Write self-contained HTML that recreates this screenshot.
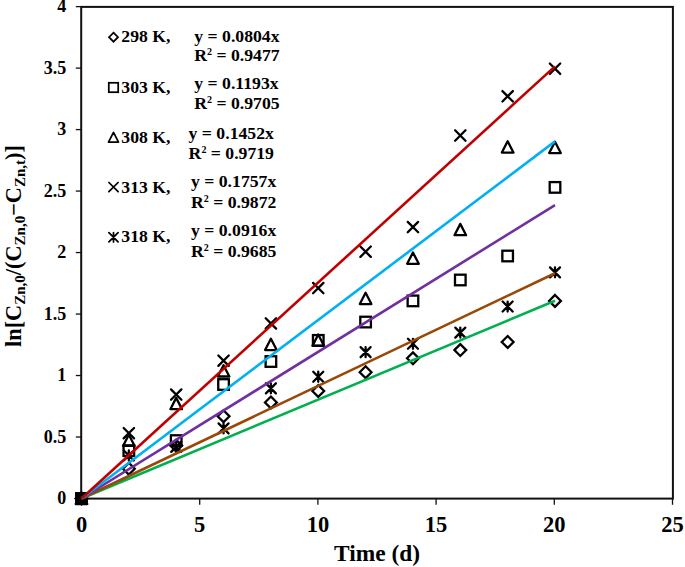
<!DOCTYPE html>
<html><head><meta charset="utf-8"><style>
html,body{margin:0;padding:0;background:#fff;}
svg{display:block;}
text{font-family:"Liberation Serif",serif;font-weight:bold;fill:#000;}
.yt{font-size:18px;}
.xt{font-size:22.5px;}
.lg{font-size:17.7px;}
.sup{font-size:10px;}
.at{font-size:23.4px;}
.at2{font-size:22.3px;}
.sb{font-size:15px;}
</style></head><body>
<svg width="685" height="567" viewBox="0 0 685 567">
<rect x="81.2" y="6.9" width="591.70" height="491.70" fill="none" stroke="#111" stroke-width="2"/>
<line x1="75.8" y1="498.50" x2="81.2" y2="498.50" stroke="#111" stroke-width="1.3"/>
<line x1="75.8" y1="437.01" x2="81.2" y2="437.01" stroke="#111" stroke-width="1.3"/>
<line x1="75.8" y1="375.53" x2="81.2" y2="375.53" stroke="#111" stroke-width="1.3"/>
<line x1="75.8" y1="314.05" x2="81.2" y2="314.05" stroke="#111" stroke-width="1.3"/>
<line x1="75.8" y1="252.56" x2="81.2" y2="252.56" stroke="#111" stroke-width="1.3"/>
<line x1="75.8" y1="191.07" x2="81.2" y2="191.07" stroke="#111" stroke-width="1.3"/>
<line x1="75.8" y1="129.59" x2="81.2" y2="129.59" stroke="#111" stroke-width="1.3"/>
<line x1="75.8" y1="68.11" x2="81.2" y2="68.11" stroke="#111" stroke-width="1.3"/>
<line x1="75.8" y1="6.62" x2="81.2" y2="6.62" stroke="#111" stroke-width="1.3"/>
<line x1="81.50" y1="498.5" x2="81.50" y2="504.8" stroke="#111" stroke-width="1.3"/>
<line x1="199.70" y1="498.5" x2="199.70" y2="504.8" stroke="#111" stroke-width="1.3"/>
<line x1="317.90" y1="498.5" x2="317.90" y2="504.8" stroke="#111" stroke-width="1.3"/>
<line x1="436.10" y1="498.5" x2="436.10" y2="504.8" stroke="#111" stroke-width="1.3"/>
<line x1="554.30" y1="498.5" x2="554.30" y2="504.8" stroke="#111" stroke-width="1.3"/>
<line x1="672.50" y1="498.5" x2="672.50" y2="504.8" stroke="#111" stroke-width="1.3"/>
<text x="66.2" y="504.00" text-anchor="end" class="yt">0</text>
<text x="66.2" y="442.51" text-anchor="end" class="yt">0.5</text>
<text x="66.2" y="381.03" text-anchor="end" class="yt">1</text>
<text x="66.2" y="319.55" text-anchor="end" class="yt">1.5</text>
<text x="66.2" y="258.06" text-anchor="end" class="yt">2</text>
<text x="66.2" y="196.57" text-anchor="end" class="yt">2.5</text>
<text x="66.2" y="135.09" text-anchor="end" class="yt">3</text>
<text x="66.2" y="73.61" text-anchor="end" class="yt">3.5</text>
<text x="66.2" y="12.12" text-anchor="end" class="yt">4</text>
<text x="81.50" y="532.1" text-anchor="middle" class="xt">0</text>
<text x="199.70" y="532.1" text-anchor="middle" class="xt">5</text>
<text x="317.90" y="532.1" text-anchor="middle" class="xt">10</text>
<text x="436.10" y="532.1" text-anchor="middle" class="xt">15</text>
<text x="554.30" y="532.1" text-anchor="middle" class="xt">20</text>
<text x="672.50" y="532.1" text-anchor="middle" class="xt">25</text>
<path d="M128.85 462.84L134.75 468.74L128.85 474.64L122.95 468.74Z" fill="none" stroke="#000" stroke-width="2.3" stroke-linejoin="miter"/>
<path d="M176.20 439.72L182.10 445.62L176.20 451.52L170.30 445.62Z" fill="none" stroke="#000" stroke-width="2.3" stroke-linejoin="miter"/>
<path d="M223.55 410.33L229.45 416.23L223.55 422.13L217.65 416.23Z" fill="none" stroke="#000" stroke-width="2.3" stroke-linejoin="miter"/>
<path d="M270.90 396.56L276.80 402.46L270.90 408.36L265.00 402.46Z" fill="none" stroke="#000" stroke-width="2.3" stroke-linejoin="miter"/>
<path d="M318.25 385.12L324.15 391.02L318.25 396.92L312.35 391.02Z" fill="none" stroke="#000" stroke-width="2.3" stroke-linejoin="miter"/>
<path d="M365.60 366.31L371.50 372.21L365.60 378.11L359.70 372.21Z" fill="none" stroke="#000" stroke-width="2.3" stroke-linejoin="miter"/>
<path d="M412.95 352.41L418.85 358.31L412.95 364.21L407.05 358.31Z" fill="none" stroke="#000" stroke-width="2.3" stroke-linejoin="miter"/>
<path d="M460.30 344.18L466.20 350.08L460.30 355.98L454.40 350.08Z" fill="none" stroke="#000" stroke-width="2.3" stroke-linejoin="miter"/>
<path d="M507.65 336.06L513.55 341.96L507.65 347.86L501.75 341.96Z" fill="none" stroke="#000" stroke-width="2.3" stroke-linejoin="miter"/>
<path d="M555.00 294.99L560.90 300.89L555.00 306.79L549.10 300.89Z" fill="none" stroke="#000" stroke-width="2.3" stroke-linejoin="miter"/>
<rect x="123.55" y="445.36" width="10.60" height="10.60" fill="none" stroke="#000" stroke-width="2.3"/>
<rect x="170.90" y="435.28" width="10.60" height="10.60" fill="none" stroke="#000" stroke-width="2.3"/>
<rect x="218.25" y="379.21" width="10.60" height="10.60" fill="none" stroke="#000" stroke-width="2.3"/>
<rect x="265.60" y="356.21" width="10.60" height="10.60" fill="none" stroke="#000" stroke-width="2.3"/>
<rect x="312.95" y="335.06" width="10.60" height="10.60" fill="none" stroke="#000" stroke-width="2.3"/>
<rect x="360.30" y="316.74" width="10.60" height="10.60" fill="none" stroke="#000" stroke-width="2.3"/>
<rect x="407.65" y="295.59" width="10.60" height="10.60" fill="none" stroke="#000" stroke-width="2.3"/>
<rect x="455.00" y="274.68" width="10.60" height="10.60" fill="none" stroke="#000" stroke-width="2.3"/>
<rect x="502.35" y="250.70" width="10.60" height="10.60" fill="none" stroke="#000" stroke-width="2.3"/>
<rect x="549.70" y="182.09" width="10.60" height="10.60" fill="none" stroke="#000" stroke-width="2.3"/>
<path d="M128.85 434.66L134.65 445.97L123.05 445.97Z" fill="none" stroke="#000" stroke-width="2.3" stroke-linejoin="round"/>
<path d="M176.20 397.89L182.00 409.20L170.40 409.20Z" fill="none" stroke="#000" stroke-width="2.3" stroke-linejoin="round"/>
<path d="M223.55 365.18L229.35 376.49L217.75 376.49Z" fill="none" stroke="#000" stroke-width="2.3" stroke-linejoin="round"/>
<path d="M270.90 338.74L276.70 350.05L265.10 350.05Z" fill="none" stroke="#000" stroke-width="2.3" stroke-linejoin="round"/>
<path d="M318.25 334.56L324.05 345.87L312.45 345.87Z" fill="none" stroke="#000" stroke-width="2.3" stroke-linejoin="round"/>
<path d="M365.60 292.75L371.40 304.06L359.80 304.06Z" fill="none" stroke="#000" stroke-width="2.3" stroke-linejoin="round"/>
<path d="M412.95 252.54L418.75 263.85L407.15 263.85Z" fill="none" stroke="#000" stroke-width="2.3" stroke-linejoin="round"/>
<path d="M460.30 223.89L466.10 235.20L454.50 235.20Z" fill="none" stroke="#000" stroke-width="2.3" stroke-linejoin="round"/>
<path d="M507.65 141.25L513.45 152.56L501.85 152.56Z" fill="none" stroke="#000" stroke-width="2.3" stroke-linejoin="round"/>
<path d="M555.00 141.74L560.80 153.05L549.20 153.05Z" fill="none" stroke="#000" stroke-width="2.3" stroke-linejoin="round"/>
<path d="M123.65 428.00L134.05 438.40M134.05 428.00L123.65 438.40" stroke="#000" stroke-width="2.3" stroke-linecap="round"/>
<path d="M171.00 389.39L181.40 399.79M181.40 389.39L171.00 399.79" stroke="#000" stroke-width="2.3" stroke-linecap="round"/>
<path d="M218.35 355.45L228.75 365.85M228.75 355.45L218.35 365.85" stroke="#000" stroke-width="2.3" stroke-linecap="round"/>
<path d="M265.70 318.19L276.10 328.59M276.10 318.19L265.70 328.59" stroke="#000" stroke-width="2.3" stroke-linecap="round"/>
<path d="M313.05 282.90L323.45 293.30M323.45 282.90L313.05 293.30" stroke="#000" stroke-width="2.3" stroke-linecap="round"/>
<path d="M360.40 246.50L370.80 256.90M370.80 246.50L360.40 256.90" stroke="#000" stroke-width="2.3" stroke-linecap="round"/>
<path d="M407.75 221.91L418.15 232.31M418.15 221.91L407.75 232.31" stroke="#000" stroke-width="2.3" stroke-linecap="round"/>
<path d="M455.10 130.29L465.50 140.69M465.50 130.29L455.10 140.69" stroke="#000" stroke-width="2.3" stroke-linecap="round"/>
<path d="M502.45 91.07L512.85 101.47M512.85 91.07L502.45 101.47" stroke="#000" stroke-width="2.3" stroke-linecap="round"/>
<path d="M549.80 63.52L560.20 73.92M560.20 63.52L549.80 73.92" stroke="#000" stroke-width="2.3" stroke-linecap="round"/>
<path d="M123.85 450.46L133.85 460.46M133.85 450.46L123.85 460.46M128.85 450.46L128.85 460.46" stroke="#000" stroke-width="2.3" stroke-linecap="round"/>
<path d="M171.20 441.85L181.20 451.85M181.20 441.85L171.20 451.85M176.20 441.85L176.20 451.85" stroke="#000" stroke-width="2.3" stroke-linecap="round"/>
<path d="M218.55 423.41L228.55 433.41M228.55 423.41L218.55 433.41M223.55 423.41L223.55 433.41" stroke="#000" stroke-width="2.3" stroke-linecap="round"/>
<path d="M265.90 383.32L275.90 393.32M275.90 383.32L265.90 393.32M270.90 383.32L270.90 393.32" stroke="#000" stroke-width="2.3" stroke-linecap="round"/>
<path d="M313.25 371.76L323.25 381.76M323.25 371.76L313.25 381.76M318.25 371.76L318.25 381.76" stroke="#000" stroke-width="2.3" stroke-linecap="round"/>
<path d="M360.60 347.17L370.60 357.17M370.60 347.17L360.60 357.17M365.60 347.17L365.60 357.17" stroke="#000" stroke-width="2.3" stroke-linecap="round"/>
<path d="M407.95 338.80L417.95 348.80M417.95 338.80L407.95 348.80M412.95 338.80L412.95 348.80" stroke="#000" stroke-width="2.3" stroke-linecap="round"/>
<path d="M455.30 327.61L465.30 337.61M465.30 327.61L455.30 337.61M460.30 327.61L460.30 337.61" stroke="#000" stroke-width="2.3" stroke-linecap="round"/>
<path d="M502.65 301.54L512.65 311.54M512.65 301.54L502.65 311.54M507.65 301.54L507.65 311.54" stroke="#000" stroke-width="2.3" stroke-linecap="round"/>
<path d="M550.00 267.36L560.00 277.36M560.00 267.36L550.00 277.36M555.00 267.36L555.00 277.36" stroke="#000" stroke-width="2.3" stroke-linecap="round"/>
<path d="M81.50 492.60L87.40 498.50L81.50 504.40L75.60 498.50Z" fill="none" stroke="#000" stroke-width="2.3" stroke-linejoin="miter"/>
<rect x="76.20" y="493.20" width="10.60" height="10.60" fill="none" stroke="#000" stroke-width="2.3"/>
<path d="M81.50 492.70L87.30 504.01L75.70 504.01Z" fill="none" stroke="#000" stroke-width="2.3" stroke-linejoin="round"/>
<path d="M76.30 493.30L86.70 503.70M86.70 493.30L76.30 503.70" stroke="#000" stroke-width="2.3" stroke-linecap="round"/>
<path d="M76.50 493.50L86.50 503.50M86.50 493.50L76.50 503.50M81.50 493.50L81.50 503.50" stroke="#000" stroke-width="2.3" stroke-linecap="round"/>
<line x1="81.50" y1="498.50" x2="555.00" y2="300.76" stroke="#00B050" stroke-width="2.6"/>
<line x1="81.50" y1="498.50" x2="555.00" y2="273.22" stroke="#984807" stroke-width="2.6"/>
<line x1="81.50" y1="498.50" x2="555.00" y2="205.09" stroke="#7030A0" stroke-width="2.6"/>
<line x1="81.50" y1="498.50" x2="555.00" y2="141.40" stroke="#00B0F0" stroke-width="2.6"/>
<line x1="81.50" y1="498.50" x2="555.00" y2="66.38" stroke="#C00000" stroke-width="2.6"/>
<path d="M113.50 32.70L118.00 37.20L113.50 41.70L109.00 37.20Z" fill="none" stroke="#000" stroke-width="1.75" stroke-linejoin="miter"/>
<text x="121.3" y="42.2" class="lg">298 K,</text>
<text x="194.3" y="41.7" class="lg">y = 0.0804x</text>
<text x="194.3" y="61.2" class="lg">R<tspan class="sup" dy="-6">2</tspan><tspan dy="6"> = 0.9477</tspan></text>
<rect x="108.80" y="82.80" width="9.40" height="9.40" fill="none" stroke="#000" stroke-width="1.75"/>
<text x="121.3" y="92.8" class="lg">303 K,</text>
<text x="194.3" y="89.3" class="lg">y = 0.1193x</text>
<text x="194.3" y="108.8" class="lg">R<tspan class="sup" dy="-6">2</tspan><tspan dy="6"> = 0.9705</tspan></text>
<path d="M113.50 132.30L118.50 142.05L108.50 142.05Z" fill="none" stroke="#000" stroke-width="1.75" stroke-linejoin="round"/>
<text x="121.3" y="142.6" class="lg">308 K,</text>
<text x="188.6" y="139.0" class="lg">y = 0.1452x</text>
<text x="188.6" y="159.3" class="lg">R<tspan class="sup" dy="-6">2</tspan><tspan dy="6"> = 0.9719</tspan></text>
<path d="M108.90 182.50L118.10 191.70M118.10 182.50L108.90 191.70" stroke="#000" stroke-width="1.75" stroke-linecap="round"/>
<text x="121.3" y="192.6" class="lg">313 K,</text>
<text x="191.0" y="187.0" class="lg">y = 0.1757x</text>
<text x="191.0" y="207.5" class="lg">R<tspan class="sup" dy="-6">2</tspan><tspan dy="6"> = 0.9872</tspan></text>
<path d="M108.90 232.70L118.10 241.90M118.10 232.70L108.90 241.90M113.50 232.70L113.50 241.90" stroke="#000" stroke-width="1.75" stroke-linecap="round"/>
<text x="121.3" y="242.3" class="lg">318 K,</text>
<text x="191.0" y="236.4" class="lg">y = 0.0916x</text>
<text x="191.0" y="256.5" class="lg">R<tspan class="sup" dy="-6">2</tspan><tspan dy="6"> = 0.9685</tspan></text>
<text x="377" y="560.8" text-anchor="middle" class="at">Time (d)</text>
<text transform="translate(20.6 246) rotate(-90)" text-anchor="middle" class="at2">ln[C<tspan class="sb" dy="4">Zn,0</tspan><tspan dy="-4">/(C</tspan><tspan class="sb" dy="4">Zn,0</tspan><tspan dy="-4">−C</tspan><tspan class="sb" dy="4">Zn,t</tspan><tspan dy="-4">)]</tspan></text>
</svg>
</body></html>
